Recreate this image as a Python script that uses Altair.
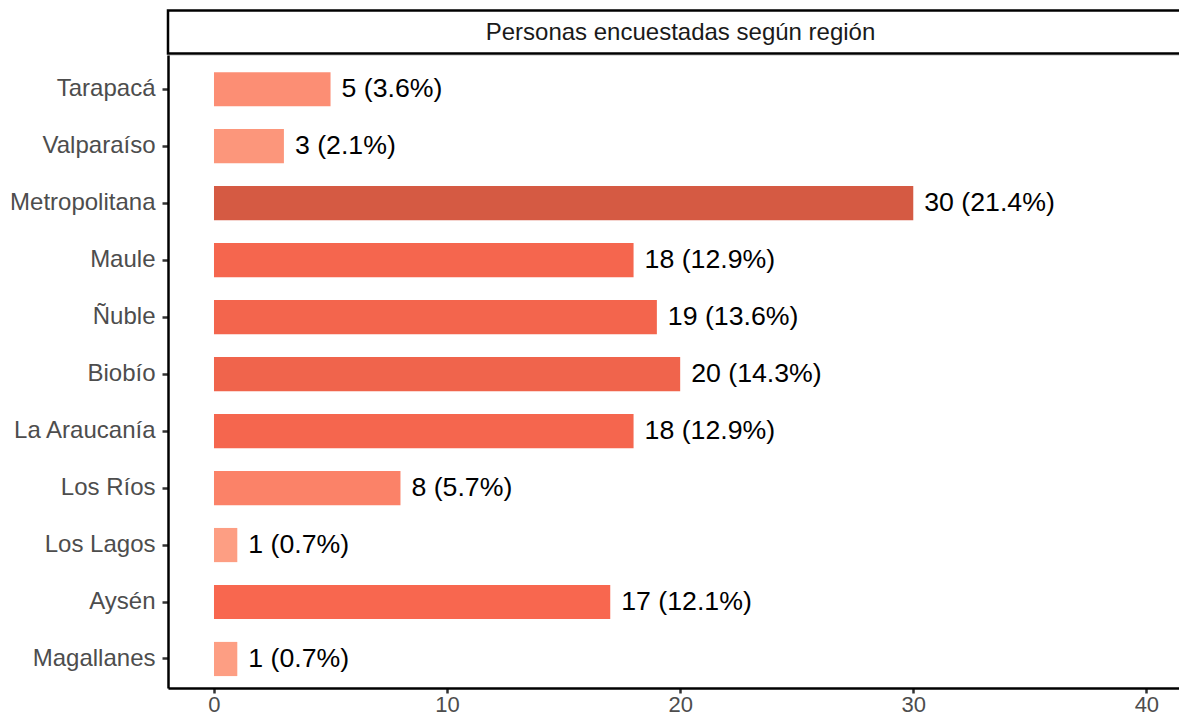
import altair as alt
import pandas as pd

regions = ["Tarapacá", "Valparaíso", "Metropolitana", "Maule", "Ñuble", "Biobío",
           "La Araucanía", "Los Ríos", "Los Lagos", "Aysén", "Magallanes"]
counts = [5, 3, 30, 18, 19, 20, 18, 8, 1, 17, 1]
labels = ["5 (3.6%)", "3 (2.1%)", "30 (21.4%)", "18 (12.9%)", "19 (13.6%)", "20 (14.3%)",
          "18 (12.9%)", "8 (5.7%)", "1 (0.7%)", "17 (12.1%)", "1 (0.7%)"]
x_ticks = [0, 10, 20, 30, 40]
strip_title = "Personas encuestadas según región"

color_domain = [1, 8, 17, 30]
color_range = ["#FD9E83", "#FB8268", "#F8674F", "#D55A43"]

df = pd.DataFrame({"region": regions, "n": counts, "label": labels})

FONT = "Liberation Sans"
W = 1011
H = 633

x_scale = alt.Scale(domain=[-1.973, 41.40], nice=False, zero=False)
y_scale = alt.Scale(domain=regions, paddingInner=0.4, paddingOuter=0.255, align=0.59)

base = alt.Chart(df)

bars = base.mark_bar().encode(
    x=alt.X("n:Q", scale=x_scale,
            axis=alt.Axis(values=x_ticks, title=None, grid=False, domainColor="black",
                          domainWidth=2.5, tickColor="#333333", tickWidth=2.5, tickSize=5,
                          labelColor="#4D4D4D", labelFont=FONT, labelFontSize=22,
                          labelPadding=1)),
    x2=alt.datum(0),
    y=alt.Y("region:N", scale=y_scale, sort=regions,
            axis=alt.Axis(title=None, grid=False, domainColor="black", domainWidth=2.5,
                          tickColor="#333333", tickWidth=2.5, tickSize=6,
                          labelColor="#4D4D4D", labelFont=FONT, labelFontSize=24,
                          labelPadding=7)),
    color=alt.Color("n:Q", scale=alt.Scale(domain=color_domain, range=color_range,
                                           interpolate="rgb"), legend=None),
)

text = base.mark_text(align="left", baseline="middle", dx=11, font=FONT,
                      fontSize=26.7, color="black").encode(
    x=alt.X("n:Q", scale=x_scale),
    y=alt.Y("region:N", scale=y_scale, sort=regions),
    text="label:N",
)

strip_df = pd.DataFrame({"t": [strip_title]})
strip_rect = alt.Chart(strip_df).mark_rect(fill="white", stroke="black",
                                           strokeWidth=2.5).encode(
    x=alt.value(0), x2=alt.value(W + 20),
    y=alt.value(-44.5), y2=alt.value(-1.5),
)
strip_text = alt.Chart(strip_df).mark_text(align="center", baseline="middle", font=FONT,
                                           fontSize=24, color="#1A1A1A").encode(
    x=alt.value(512.5), y=alt.value(-22), text="t:N",
)

chart = alt.layer(bars, text, strip_rect, strip_text).properties(
    width=W, height=H,
    autosize=alt.AutoSizeParams(type="none"),
    padding={"left": 160, "top": 47, "right": 0, "bottom": 32},
).configure_view(stroke=None).configure(background="white")

chart.save("out.html", embed_options={"renderer": "svg", "actions": False})
